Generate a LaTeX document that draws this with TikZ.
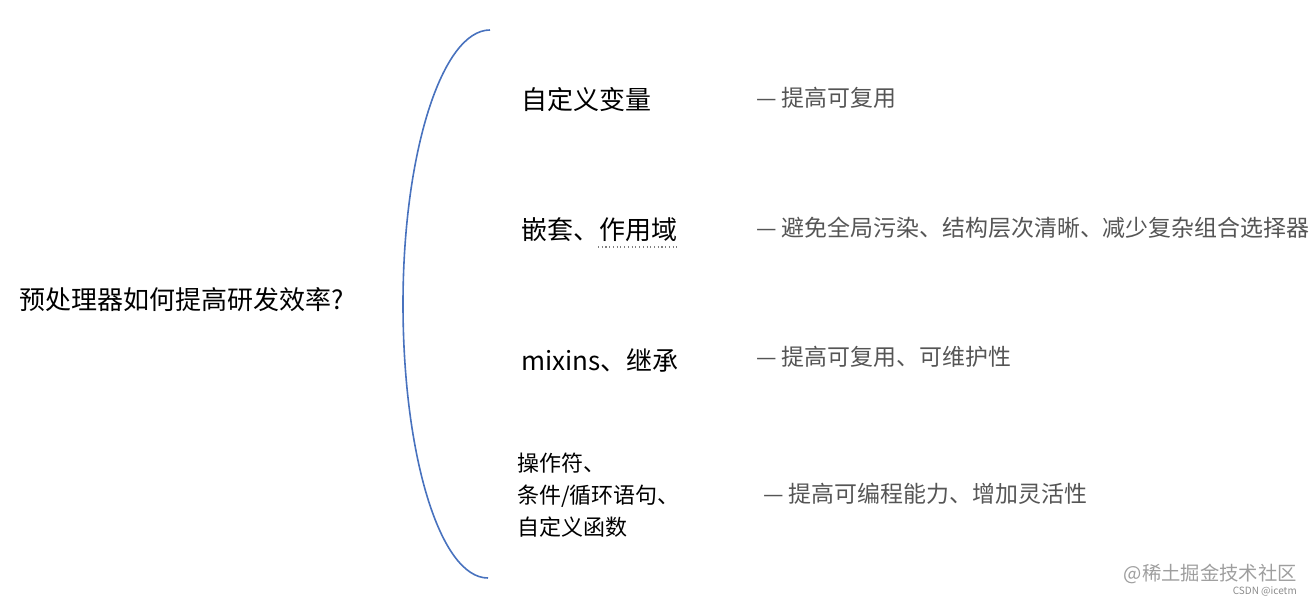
\documentclass[tikz,border=0pt]{standalone}
\usepackage{fontspec}
\setmainfont{Noto Sans CJK SC}
\usepackage{tikz}
\usetikzlibrary{positioning}

\definecolor{braceblue}{RGB}{72,114,190}
\definecolor{desctext}{RGB}{85,85,85}

\begin{document}
\begin{tikzpicture}[x=0.75pt,y=0.75pt,yscale=-1,xscale=1,
  itemtext/.style={anchor=west,inner sep=0.75pt,font=\fontsize{19.5}{24}\selectfont},
  desc/.style={anchor=west,inner sep=0.75pt,text=desctext,font=\fontsize{17.2}{22}\selectfont}]
%set diagram left start at 0, and has height of 602
\useasboundingbox (0,0) rectangle (1316,602);

% Text Node
\node (title) [itemtext] at (18,300) {预处理器如何提高研发效率?};

%Curve Lines: brace
\coordinate (braceTop) at (490,30);
\coordinate (braceBot) at (488,578);
\draw [color=braceblue,line width=1.2pt] (braceTop) .. controls (442,30) and (403,153) .. (403,304) .. controls (403,455) and (440,578) .. (braceBot);

% Text Node
\node (vars) [itemtext] at (520,100) {自定义变量};
% Text Node
\node (nest) [itemtext] at (520,230) {嵌套、作用域};
% Text Node
\node (mixins) [itemtext] at (520,360) {mixins、继承};
% Text Node
\node (funcs) [itemtext,align=left,font=\fontsize{16.5}{24}\selectfont] at (516,495) {操作符、\\条件/循环语句、\\自定义函数};

%Straight Lines: dotted underline
\draw [color=gray,dotted,line width=0.8pt] (598,247) -- (678,247);

% Text Node
\node (varsDesc) [desc] at (755,98) {— 提高可复用};
% Text Node
\node (nestDesc) [desc] at (755,228) {— 避免全局污染、结构层次清晰、减少复杂组合选择器};
% Text Node
\node (mixinsDesc) [desc] at (755,357) {— 提高可复用、可维护性};
% Text Node
\node (funcsDesc) [desc] at (762,494) {— 提高可编程能力、增加灵活性};

% Text Node
\node (mark) [anchor=east,inner sep=0pt,text=black!38,font=\fontsize{14.5}{16}\selectfont] at (1297,574) {@稀土掘金技术社区};
% Text Node
\node (csdn) [anchor=east,inner sep=0pt,text=black!45,font=\fontsize{7.5}{9}\selectfont] at (1297,591) {CSDN @icetm};

\end{tikzpicture}
\end{document}
